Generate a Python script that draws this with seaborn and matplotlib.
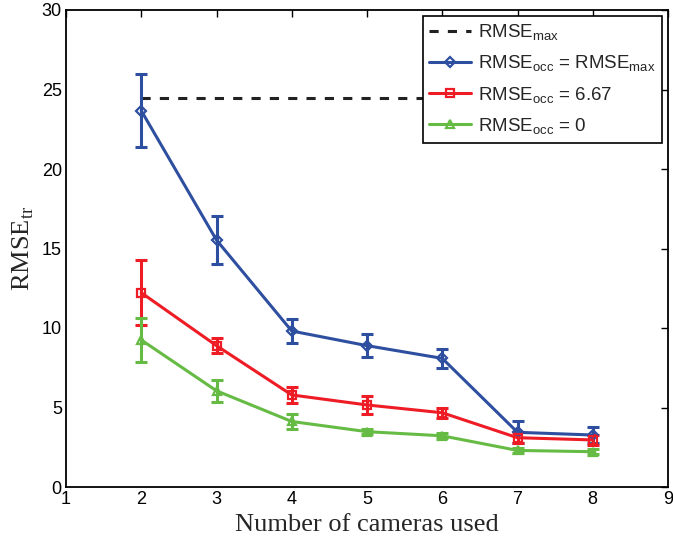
import matplotlib
matplotlib.use("Agg")
import matplotlib.pyplot as plt
import seaborn as sns
import pandas as pd
import numpy as np

cameras = [2, 3, 4, 5, 6, 7, 8]
rmse_max_level = 24.45
blue_mean = [23.67, 15.53, 9.81, 8.89, 8.09, 3.44, 3.27]
blue_err = [2.3, 1.52, 0.74, 0.72, 0.6, 0.7, 0.52]
red_mean = [12.22, 8.89, 5.79, 5.16, 4.67, 3.10, 2.96]
red_err = [2.05, 0.48, 0.5, 0.55, 0.3, 0.35, 0.3]
green_mean = [9.25, 6.05, 4.12, 3.48, 3.22, 2.30, 2.22]
green_err = [1.4, 0.7, 0.45, 0.15, 0.15, 0.15, 0.15]

labels = [r"$\mathregular{RMSE_{occ}}$ = $\mathregular{RMSE_{max}}$",
          r"$\mathregular{RMSE_{occ}}$ = 6.67",
          r"$\mathregular{RMSE_{occ}}$ = 0"]
colors = ["#2E4FA0", "#EE1C25", "#66BB44"]
markers = ["D", "s", "^"]

sns.set_style("white")
plt.rcParams["font.family"] = ["Liberation Sans", "DejaVu Sans"]
plt.rcParams["mathtext.fontset"] = "custom"
plt.rcParams["mathtext.rm"] = "Liberation Sans"

fig = plt.figure(figsize=(6.73, 5.46), dpi=100)
ax = fig.add_axes([66/673, 1-487/546, (668-66)/673, (487-10)/546])

# dashed max line
df_max = pd.DataFrame({"x": [2, 8.5], "y": [rmse_max_level]*2})
sns.lineplot(data=df_max, x="x", y="y", ax=ax, color="#222222", lw=2.2,
             linestyle=(0, (3, 3)), label=r"$\mathregular{RMSE_{max}}$")

series = [(blue_mean, blue_err), (red_mean, red_err), (green_mean, green_err)]
for (m, e), lab, c, mk in zip(series, labels, colors, markers):
    df = pd.DataFrame({"x": cameras, "y": m})
    ax.errorbar(cameras, m, yerr=e, fmt="none", ecolor=c, elinewidth=2.2,
                capsize=4.5, capthick=2.2, zorder=3)
    sns.lineplot(data=df, x="x", y="y", ax=ax, color=c, lw=2.2, marker=mk,
                 markersize=5.5 if mk != "D" else 5, markerfacecolor="none",
                 markeredgecolor=c, markeredgewidth=1.6, label=lab, zorder=4)

ax.set_xlim(1, 9)
ax.set_ylim(0, 30)
ax.set_xticks(range(1, 10))
ax.set_yticks(range(0, 31, 5))
ax.tick_params(direction="in", length=5, width=1, top=True, right=True,
               labelsize=13, colors="black", pad=3)
for s in ax.spines.values():
    s.set_visible(True)
    s.set_color("black")
    s.set_linewidth(1.3)

ax.set_xlabel("Number of cameras used", fontfamily="Liberation Serif",
              fontsize=19, labelpad=4)
ax.set_ylabel(r"RMSE$_{\mathregular{tr}}$", fontfamily="Liberation Serif",
              fontsize=19, labelpad=4)

leg = ax.legend(loc="upper right", fontsize=13.5, frameon=True, fancybox=False,
                edgecolor="black", framealpha=1, borderpad=0.35,
                handlelength=2.2, handletextpad=0.4, labelspacing=0.6,
                borderaxespad=0.3)
leg.get_frame().set_linewidth(1.2)

fig.savefig("out.png", dpi=100)
